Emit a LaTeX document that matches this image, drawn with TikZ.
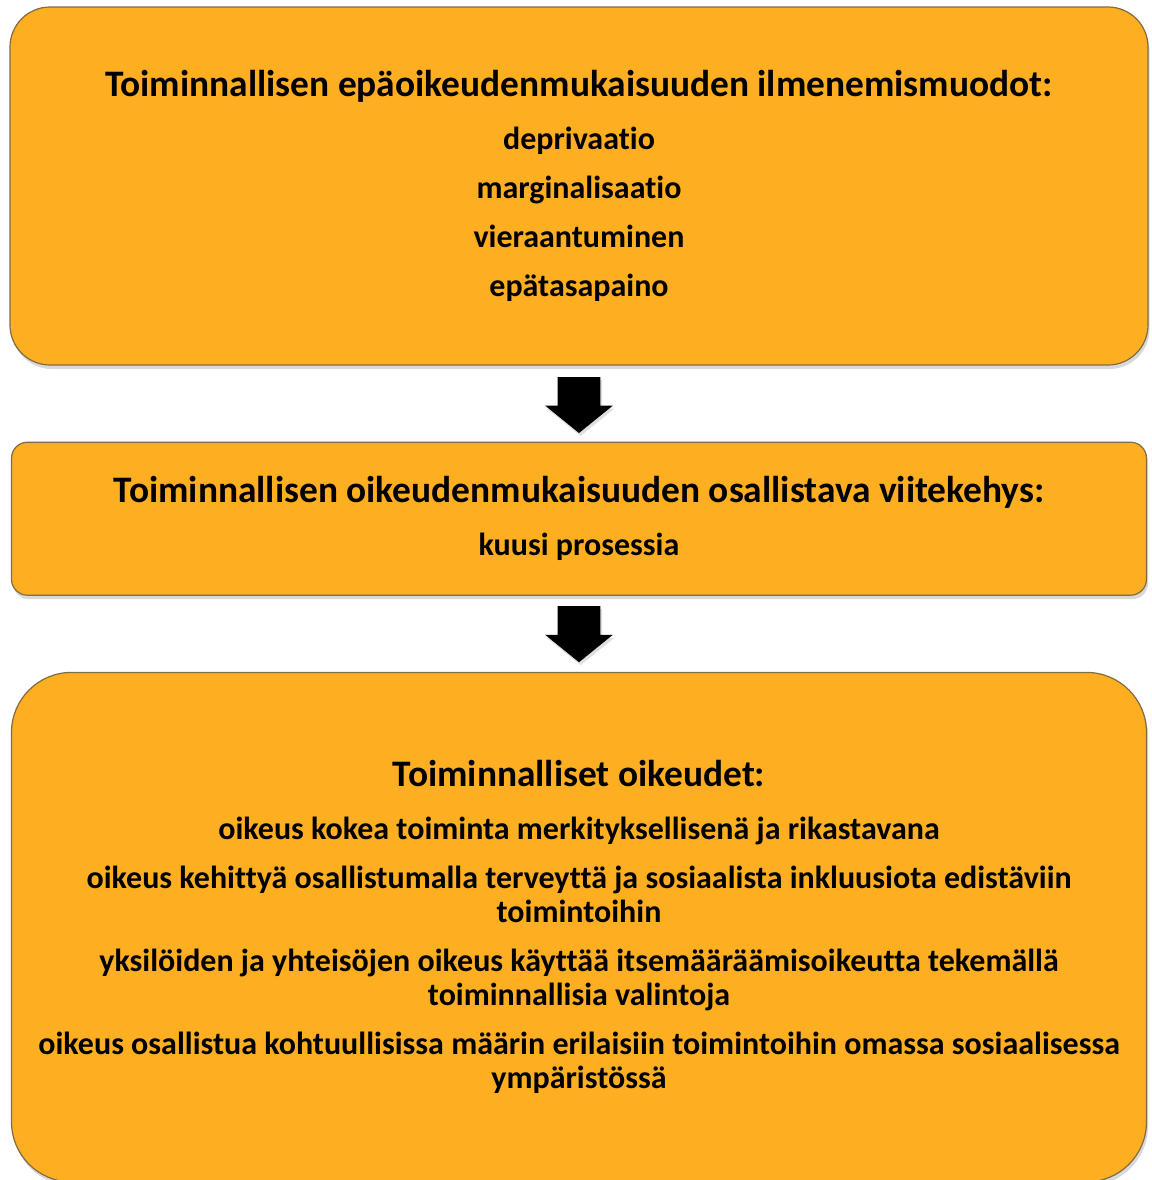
\documentclass[tikz,border=0pt]{standalone}
\usepackage{fontspec}
\setmainfont{Carlito}[Ligatures=NoCommon]
\usetikzlibrary{positioning, calc, shapes.arrows, shadows}
\definecolor{laatikko}{RGB}{253,174,33}
\definecolor{reuna}{RGB}{128,108,68}

\tikzset{
  laatikko/.style={draw=reuna, fill=laatikko, line width=0.6pt, align=center,
    font=\fontsize{16}{17}\selectfont\bfseries,
    drop shadow={shadow xshift=0.8pt, shadow yshift=-2pt, opacity=0.3}},
  nuoli/.style={single arrow, fill=black, shape border rotate=270, inner xsep=10.5pt, inner ysep=0pt,
    minimum height=28pt, single arrow head extend=6.25pt, single arrow tip angle=102,
    anchor=tail, drop shadow={shadow xshift=0.8pt, shadow yshift=-1.5pt, opacity=0.25}}
}

\begin{document}
\begin{tikzpicture}[x=0.5pt, y=-0.5pt]
    \useasboundingbox (0,0) rectangle (1152,1180);

    % Ylin laatikko: ilmenemismuodot
    \node[laatikko, rounded corners=20pt, minimum width=569pt, minimum height=179pt] 
        (ilmeneminen) at (579,186) {{\fontsize{18.7}{17}\selectfont Toiminnallisen epäoikeudenmukaisuuden ilmenemismuodot:}\\[9.5pt]
        deprivaatio\\[7.5pt] marginalisaatio\\[7.5pt] vieraantuminen\\[7.5pt] epätasapaino};

    % Keskimmäinen laatikko: viitekehys
    \node[laatikko, rounded corners=8pt, minimum width=567.5pt, minimum height=76.5pt, below=38pt of ilmeneminen] 
        (viitekehys) {{\fontsize{18.7}{17}\selectfont Toiminnallisen oikeudenmukaisuuden osallistava viitekehys:}\\[9.5pt]
        kuusi prosessia};

    % Alin laatikko: oikeudet
    \node[laatikko, rounded corners=30pt, minimum width=567.5pt, minimum height=254.75pt, below=38pt of viitekehys] 
        (oikeudet) {{\fontsize{18.7}{17}\selectfont Toiminnalliset oikeudet:}\\[9.5pt]
        oikeus kokea toiminta merkityksellisenä ja rikastavana\\[7.5pt]
        oikeus kehittyä osallistumalla terveyttä ja sosiaalista inkluusiota edistäviin\\ toimintoihin\\[7.5pt]
        yksilöiden ja yhteisöjen oikeus käyttää itsemääräämisoikeutta tekemällä\\ toiminnallisia valintoja\\[7.5pt]
        oikeus osallistua kohtuullisissa määrin erilaisiin toimintoihin omassa sosiaalisessa\\ ympäristössä};

    % Nuolet laatikoiden välissä
    \node[nuoli] (nuoli1) at ([yshift=-5.5pt]ilmeneminen.south) {};
    \node[nuoli] (nuoli2) at ([yshift=-5pt]viitekehys.south) {};
\end{tikzpicture}
\end{document}
